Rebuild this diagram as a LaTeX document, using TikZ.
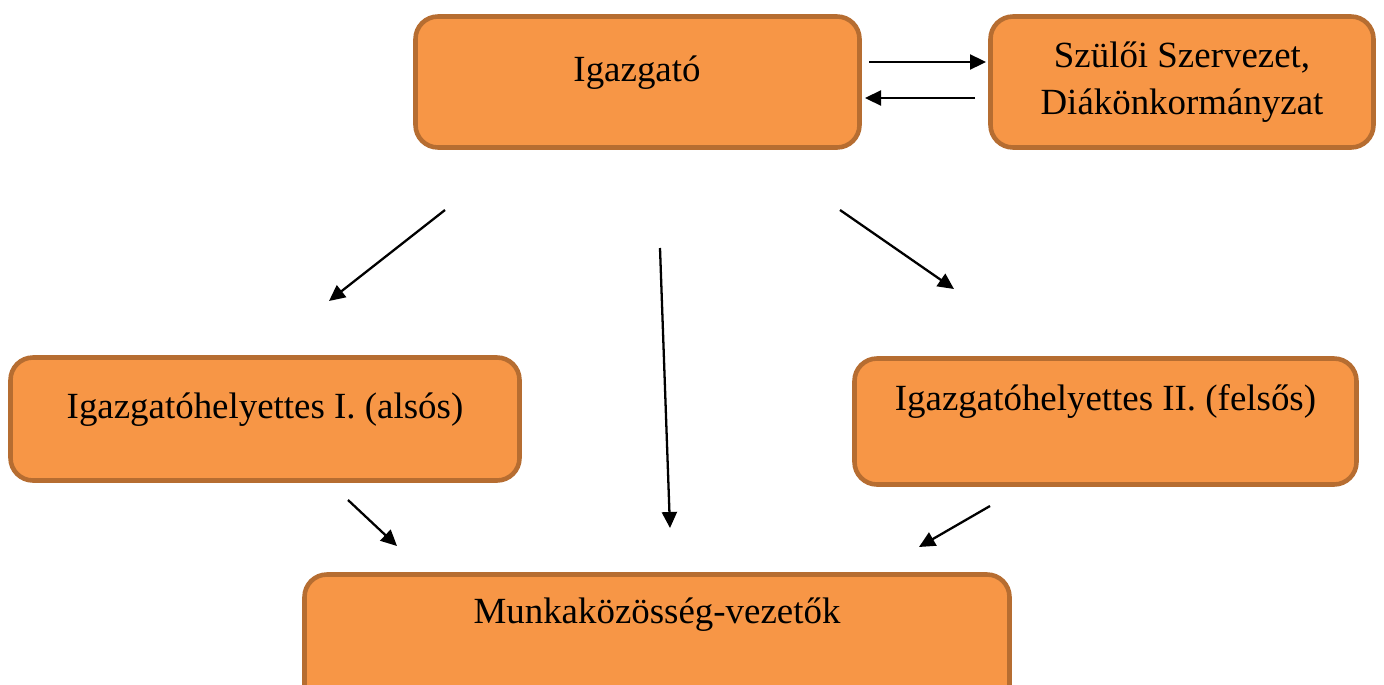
\documentclass[tikz,border=0pt]{standalone}
\usepackage{fontspec}
\setmainfont{Liberation Serif}
\usepackage{tikz}
\usetikzlibrary{arrows.meta,positioning}
\definecolor{boxfill}{HTML}{F79646}
\definecolor{boxline}{HTML}{B66D31}
\tikzset{
  box/.style={draw=boxline, fill=boxfill, rectangle, rounded corners=4.5mm, line width=2.6pt, inner sep=0pt},
  txt/.style={font=\fontsize{21}{27}\selectfont, align=center, inner sep=0pt},
  arr/.style={-{Triangle[length=3.2mm, width=3mm]}, line width=1.3pt}
}
\begin{document}
\begin{tikzpicture}
\useasboundingbox (0,0) rectangle (27.68,-13.68);

\node[box, minimum width=8.88cm, minimum height=2.62cm] (igaz) at (12.75,-1.64) {};
\node[box, minimum width=7.66cm, minimum height=2.62cm] (szulo) at (23.64,-1.64) {};
\node[box, minimum width=10.18cm, minimum height=2.46cm] (helyI) at (5.30,-8.38) {};
\node[box, minimum width=10.04cm, minimum height=2.52cm] (helyII) at (22.11,-8.43) {};
\node[box, minimum width=14.1cm, minimum height=2.7cm] (munka) at (13.14,-12.84) {};

\node[txt] (igazT) at (12.74,-1.46) {Igazgató};
\node[txt] (szuloT) at (23.64,-1.64) {Szülői Szervezet,\\Diákönkormányzat};
\node[txt] (helyIT) at (5.30,-8.20) {Igazgatóhelyettes I. (alsós)};
\node[txt] (helyIIT) at (22.11,-8.02) {Igazgatóhelyettes II. (felsős)};
\node[txt] (munkaT) at (13.14,-12.30) {Munkaközösség-vezetők};

% free-standing arrows
\coordinate (ia) at (17.38,-1.24); \coordinate (sa) at (19.72,-1.24);
\coordinate (sb) at (19.50,-1.96); \coordinate (ib) at (17.30,-1.96);
\coordinate (i1) at (8.90,-4.20);  \coordinate (h1) at (6.58,-6.02);
\coordinate (i2) at (13.20,-4.96); \coordinate (m2) at (13.40,-10.56);
\coordinate (i3) at (16.80,-4.20); \coordinate (h3) at (19.08,-5.78);
\coordinate (h4) at (6.96,-10.00); \coordinate (m4) at (7.94,-10.92);
\coordinate (h5) at (19.80,-10.12); \coordinate (m5) at (18.38,-10.94);

\draw[arr] (ia) -- (sa);
\draw[arr] (sb) -- (ib);
\draw[arr] (i1) -- (h1);
\draw[arr] (i2) -- (m2);
\draw[arr] (i3) -- (h3);
\draw[arr] (h4) -- (m4);
\draw[arr] (h5) -- (m5);
\end{tikzpicture}
\end{document}
